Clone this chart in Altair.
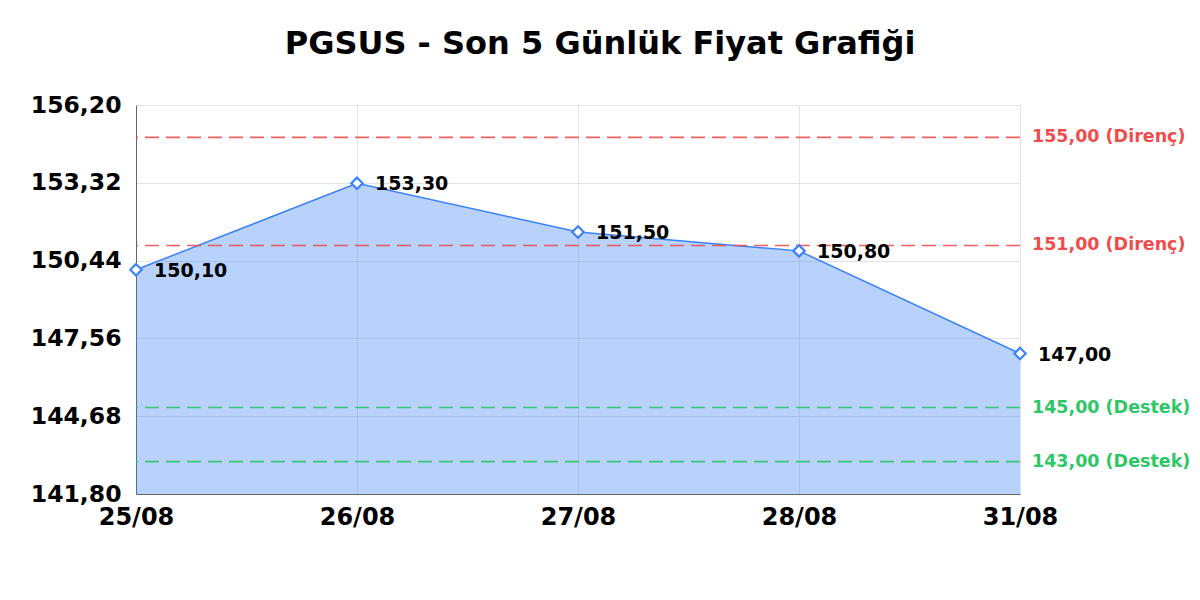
import altair as alt
import pandas as pd

dates = ["25/08", "26/08", "27/08", "28/08", "31/08"]
prices = [150.10, 153.30, 151.50, 150.80, 147.00]
levels = [155.00, 151.00, 145.00, 143.00]
level_types = ["Direnç", "Direnç", "Destek", "Destek"]
level_colors = ["#ef4444", "#ef4444", "#22c55e", "#22c55e"]
y_ticks = [141.80, 144.68, 147.56, 150.44, 153.32, 156.20]

FONT = "DejaVu Sans"
W, H = 884, 389

def tr(v):
    return f"{v:.2f}".replace(".", ",")

df = pd.DataFrame({"date": dates, "price": prices,
                   "label": [tr(p) for p in prices]})
lv = pd.DataFrame({"level": levels, "kind": level_types, "color": level_colors,
                   "label": [f"{tr(v)} ({k})" for v, k in zip(levels, level_types)]})

x_enc = alt.X("date:N", sort=dates, title=None,
              scale=alt.Scale(type="point", padding=0),
              axis=alt.Axis(labelAngle=0, labelFont=FONT, labelFontSize=24,
                            labelFontWeight="bold", labelColor="#000000",
                            labelPadding=11, ticks=False, domainColor="#666666",
                            gridColor="#e3e3e3", grid=True))
y_scale = alt.Scale(domain=[141.80, 156.20], nice=False, zero=False)
y_enc = alt.Y("price:Q", scale=y_scale, title=None,
              axis=alt.Axis(values=y_ticks,
                            labelExpr="replace(format(datum.value, '.2f'), '.', ',')",
                            labelFont=FONT, labelFontSize=23.5, labelFontWeight="bold",
                            labelColor="#000000", labelPadding=15, ticks=False,
                            domainColor="#666666", gridColor="#e3e3e3"))

base = alt.Chart(df).encode(x=x_enc, y=y_enc)

area = base.mark_area(color="#3b82f6", opacity=0.36, clip=True)
line = base.mark_line(color="#3b82f6", strokeWidth=1.5)
pts = base.mark_point(shape="diamond", filled=True, fill="white", stroke="#3b82f6",
                      strokeWidth=2.2, size=130, opacity=1)
txt = base.mark_text(align="left", baseline="middle", dx=18, dy=1, font=FONT,
                     fontSize=19, fontWeight="bold", color="#000000").encode(text="label:N")

rules = alt.Chart(lv).mark_rule(strokeDash=[14, 7], strokeWidth=1.6, opacity=0.85).encode(
    y=alt.Y("level:Q", scale=y_scale),
    color=alt.Color("color:N", scale=None))
rtxt = alt.Chart(lv).mark_text(align="left", baseline="middle", font=FONT, fontSize=17.5,
                               fontWeight="bold", opacity=0.95).encode(
    x=alt.value(W + 12),
    y=alt.Y("level:Q", scale=y_scale),
    text="label:N",
    color=alt.Color("color:N", scale=None))

chart = alt.layer(area, line, rules, pts, txt, rtxt).properties(
    width=W, height=H,
    title=alt.Title("PGSUS - Son 5 Günlük Fiyat Grafiği", font=FONT, fontSize=32,
                    fontWeight="bold", color="#000000", dx=22, offset=32),
    autosize=alt.AutoSizeParams(type="none"),
    padding={"left": 128, "top": 97, "right": 172, "bottom": 95},
).configure_view(stroke=None).configure(background="white")

chart.save("out.html", embed_options={"renderer": "svg", "actions": False})
